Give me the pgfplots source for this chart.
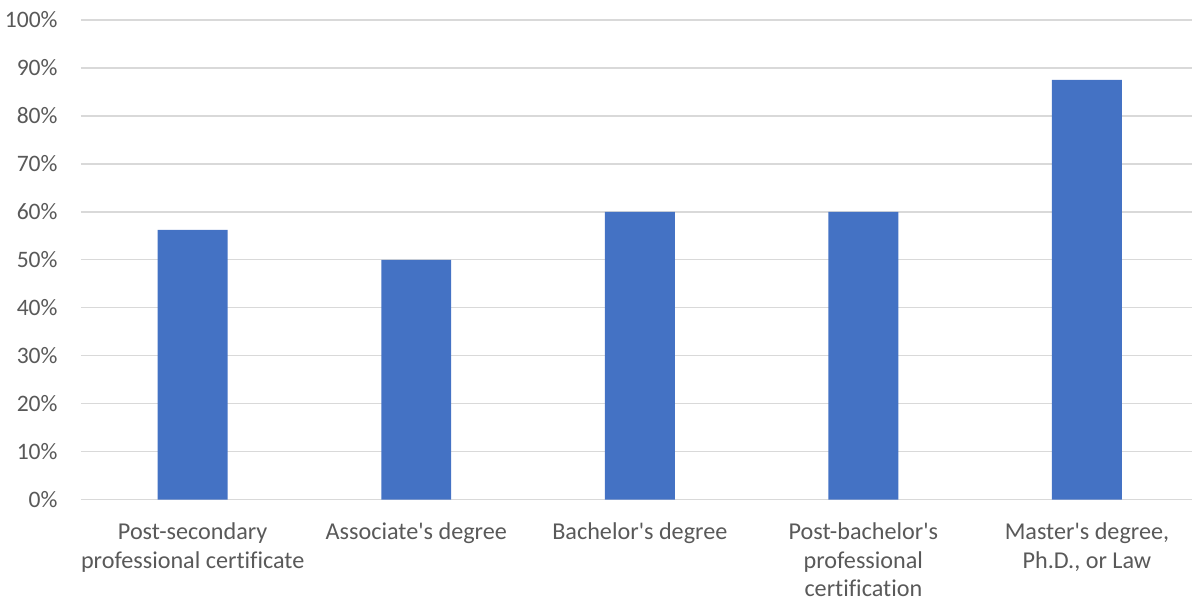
\documentclass[border=0pt]{standalone}
\usepackage{fontspec}
\setmainfont{Carlito}[Ligatures={TeXOff,NoCommon}]
\usepackage{pgfplots}
\pgfplotsset{compat=1.18}
\definecolor{barblue}{HTML}{4472C4}
\definecolor{txtgray}{HTML}{595959}
\definecolor{gridgray}{HTML}{D9D9D9}
\begin{document}
\begin{tikzpicture}
\useasboundingbox (-40.5bp,-51bp) rectangle (556.5bp,250bp);
\begin{axis}[
  at={(0,0)}, anchor=south west,
  scale only axis,
  width=556bp, height=240bp,
  xmin=-0.5, xmax=4.47,
  ymin=0, ymax=100,
  axis line style={draw=none},
  ytick={0,10,...,100},
  yticklabels={0\%,10\%,20\%,30\%,40\%,50\%,60\%,70\%,80\%,90\%,100\%},
  xtick={0,1,2,3,4},
  xticklabels={{Post-secondary\\professional certificate},{Associate's degree},{Bachelor's degree},{Post-bachelor's\\professional\\certification},{Master's degree,\\Ph.D., or Law}},
  major tick length=0pt,
  ymajorgrids,
  grid style={gridgray, line width=0.7pt},
  yticklabel style={anchor=east, inner sep=0pt, xshift=-11.5bp, text=txtgray, font=\fontsize{11.8bp}{14.25bp}\selectfont},
  xticklabel style={anchor=north, align=center, inner sep=0pt, yshift=-11.5bp, text=txtgray, font=\fontsize{12.1bp}{14.3bp}\selectfont},
  /pgf/number format/assume math mode=true,
  clip=false,
]
\addplot[ybar, bar width=35bp, fill=barblue, draw=none] coordinates {(0,56.25) (1,50) (2,60) (3,60) (4,87.5)};
\end{axis}
\end{tikzpicture}
\end{document}
